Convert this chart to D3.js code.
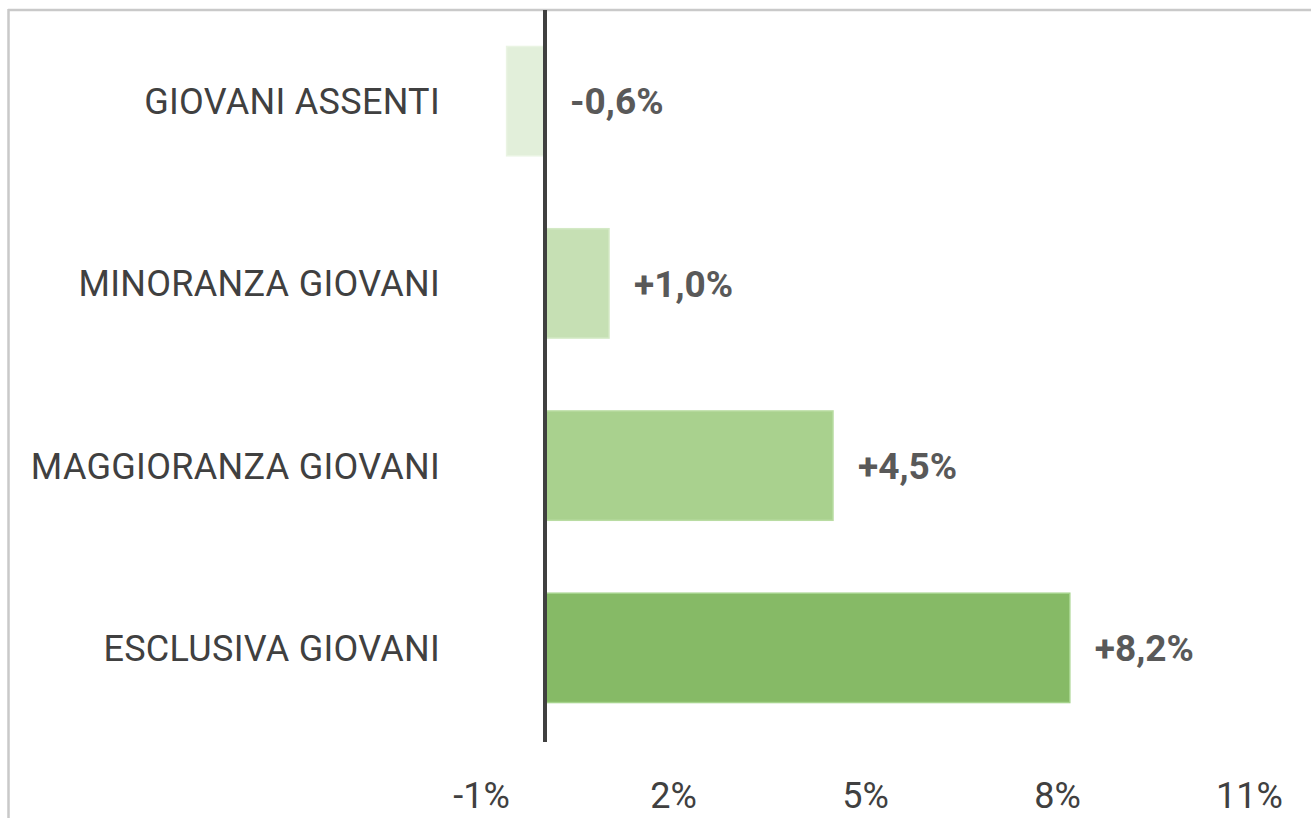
<!DOCTYPE html>
<html>
<head>
<meta charset="utf-8">
<script src="https://cdn.jsdelivr.net/npm/d3@7"></script>
<style>
  html, body { margin: 0; padding: 0; background: #fff; }
  svg { display: block; font-family: Roboto, "Liberation Sans", sans-serif; }
</style>
</head>
<body>
<div id="chart"></div>
<script>
const categories = ['GIOVANI ASSENTI', 'MINORANZA GIOVANI', 'MAGGIORANZA GIOVANI', 'ESCLUSIVA GIOVANI'];
const values = [-0.6, 1.0, 4.5, 8.2];
const barColors = ['#e2efda', '#c6e0b4', '#a9d18e', '#86ba66'];
const barStrokes = ['#eaf4e3', '#d3e9c5', '#b9dca2', '#a6d38d'];
const tickValues = [-1, 2, 5, 8, 11];

const width = 1311, height = 818;
const data = categories.map((c, i) => ({ cat: c, value: values[i], fill: barColors[i], stroke: barStrokes[i] }));

// excel style: hyphen minus, comma decimal, explicit plus
const fmt = v => (v > 0 ? '+' : '') + d3.format('.1f')(v).replace('\u2212', '-').replace('.', ',') + '%';

const xScale = d3.scaleLinear()
  .domain([-1, 11])
  .range([481, 1249]);

const yScale = d3.scaleBand()
  .domain(categories)
  .range([10, 739])
  .paddingInner(0.4)
  .paddingOuter(0.2);

const svg = d3.select('#chart')
  .append('svg')
  .attr('width', width)
  .attr('height', height);

// chart frame (only top and left visible)
svg.append('line')
  .attr('x1', 8).attr('x2', width + 5)
  .attr('y1', 10).attr('y2', 10)
  .style('stroke', '#c9c9c9')
  .style('stroke-width', 2.5);

svg.append('line')
  .attr('x1', 8.5).attr('x2', 8.5)
  .attr('y1', 9).attr('y2', height + 5)
  .style('stroke', '#c9c9c9')
  .style('stroke-width', 2.5);

// bars
svg.selectAll('.bar')
  .data(data)
  .enter().append('rect')
  .attr('class', 'bar')
  .attr('x', d => xScale(Math.min(0, d.value)))
  .attr('y', d => yScale(d.cat))
  .attr('width', d => Math.abs(xScale(d.value) - xScale(0)))
  .attr('height', yScale.bandwidth())
  .style('fill', d => d.fill)
  .style('stroke', d => d.stroke)
  .style('stroke-width', 1.5);

// zero line
svg.append('line')
  .attr('x1', xScale(0)).attr('x2', xScale(0))
  .attr('y1', 10).attr('y2', 742)
  .style('stroke', '#404040')
  .style('stroke-width', 4);

// category labels
svg.selectAll('.cat-label')
  .data(data)
  .enter().append('text')
  .attr('class', 'cat-label')
  .attr('x', 440)
  .attr('y', d => yScale(d.cat) + yScale.bandwidth() / 2)
  .attr('dy', '0.36em')
  .attr('text-anchor', 'end')
  .style('font-size', '36px')
  .style('letter-spacing', '0.3px')
  .style('fill', '#404040')
  .text(d => d.cat);

// value labels
svg.selectAll('.val-label')
  .data(data)
  .enter().append('text')
  .attr('class', 'val-label')
  .attr('x', d => xScale(Math.max(0, d.value)) + 25)
  .attr('y', d => yScale(d.cat) + yScale.bandwidth() / 2)
  .attr('dy', '0.36em')
  .style('font-size', '37px')
  .style('font-weight', 'bold')
  .style('fill', '#595959')
  .text(d => fmt(d.value));

// x axis tick labels
const xAxis = d3.axisBottom(xScale)
  .tickValues(tickValues)
  .tickSize(0)
  .tickPadding(0)
  .tickFormat(d => d + '%');

const gx = svg.append('g')
  .attr('transform', 'translate(0,' + 770 + ')')
  .call(xAxis);
gx.select('.domain').remove();
gx.selectAll('text')
  .attr('dy', '1.05em')
  .style('font-family', 'Roboto, "Liberation Sans", sans-serif')
  .style('font-size', '36px')
  .style('fill', '#404040');
</script>
</body>
</html>
